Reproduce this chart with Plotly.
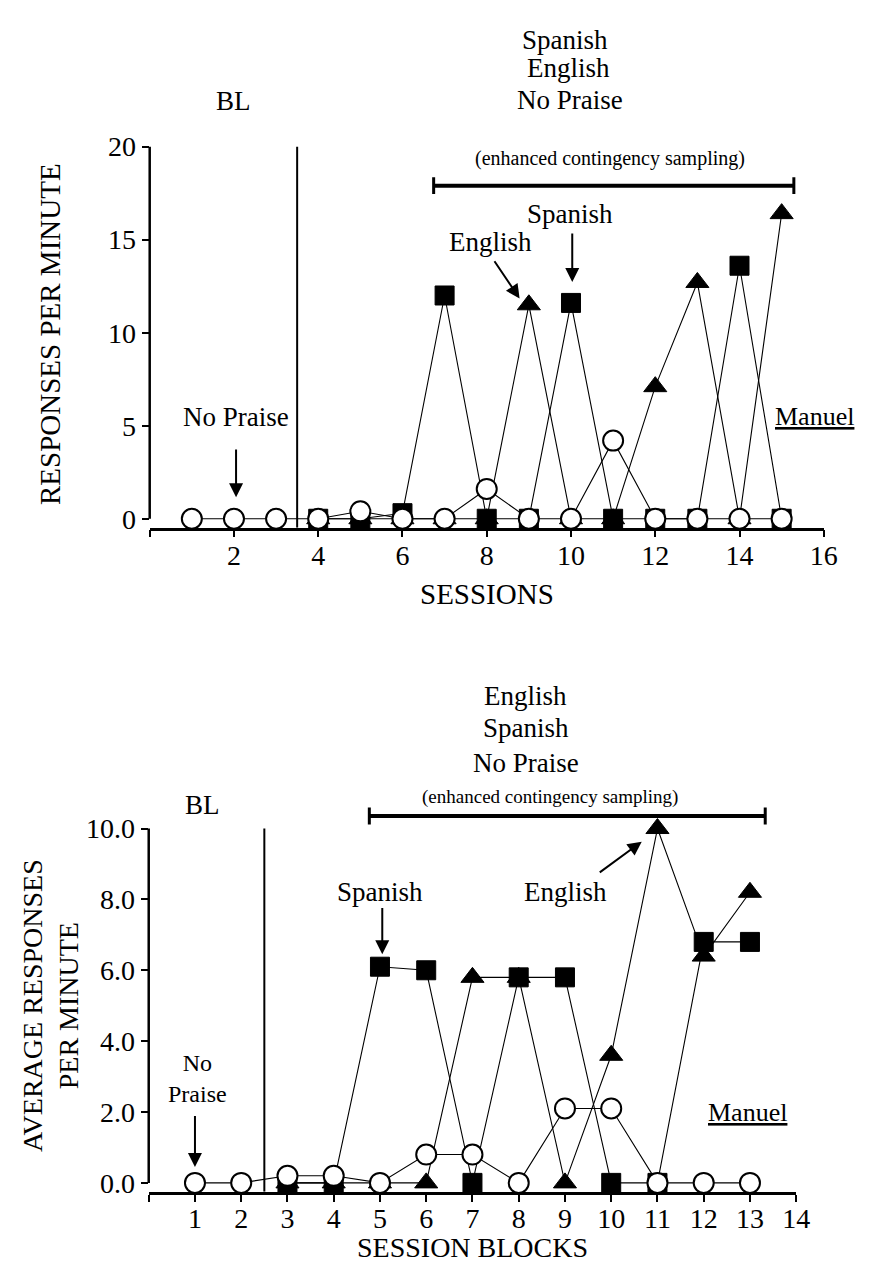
import plotly.graph_objects as go

W, H = 877, 1266
FONT = "Liberation Serif"

# ---------------- data: top panel (sessions) ----------------
sessions = list(range(1, 16))
top_no_praise = [0, 0, 0, 0, 0.4, 0, 0, 1.6, 0, 0, 4.2, 0, 0, 0, 0]
top_sessions_cond = list(range(4, 16))
top_spanish = [0, 0, 0.3, 12.0, 0, 0, 11.6, 0, 0, 0, 13.6, 0]
top_english = [0, 0, 0, 0, 0, 11.5, 0, 0, 7.1, 12.7, 0, 16.4]
top_xticks = [0, 2, 4, 6, 8, 10, 12, 14, 16]
top_xticktext = ["", "2", "4", "6", "8", "10", "12", "14", "16"]
top_yticks = [0, 5, 10, 15, 20]
top_yticktext = ["0", "5", "10", "15", "20"]

# ---------------- data: bottom panel (session blocks) ----------------
blocks = list(range(1, 14))
bot_no_praise = [0, 0, 0.2, 0.2, 0, 0.8, 0.8, 0, 2.1, 2.1, 0, 0, 0]
bot_blocks_cond = list(range(3, 14))
bot_spanish = [0, 0, 6.1, 6.0, 0, 5.8, 5.8, 0, 0, 6.8, 6.8]
bot_english = [0, 0, 0, 0, 5.8, 5.8, 0, 3.6, 10.0, 6.4, 8.2]
bot_xticks = list(range(0, 15))
bot_xticktext = [""] + [str(i) for i in range(1, 15)]
bot_yticks = [0, 2, 4, 6, 8, 10]
bot_yticktext = ["0.0", "2.0", "4.0", "6.0", "8.0", "10.0"]


def px(x):
    return x / W


def py(y):
    return 1 - y / H


fig = go.Figure()

circle = dict(symbol="circle", size=20, color="white", line=dict(color="black", width=2))
square = dict(symbol="square", size=19, color="black", line=dict(color="black", width=1))
tri = dict(symbol="triangle-up", size=20, color="black", line=dict(color="black", width=1))
ln = dict(color="black", width=1.1)

# top traces
fig.add_trace(go.Scatter(x=top_sessions_cond, y=top_english, mode="lines+markers", marker=tri,
                         line=ln, xaxis="x", yaxis="y", cliponaxis=False, name="English"))
fig.add_trace(go.Scatter(x=top_sessions_cond, y=top_spanish, mode="lines+markers", marker=square,
                         line=ln, xaxis="x", yaxis="y", cliponaxis=False, name="Spanish"))
fig.add_trace(go.Scatter(x=sessions, y=top_no_praise, mode="lines+markers", marker=circle,
                         line=ln, xaxis="x", yaxis="y", cliponaxis=False, name="No Praise"))
# bottom traces
fig.add_trace(go.Scatter(x=bot_blocks_cond, y=bot_english, mode="lines+markers", marker=tri,
                         line=ln, xaxis="x2", yaxis="y2", cliponaxis=False, name="English"))
fig.add_trace(go.Scatter(x=bot_blocks_cond, y=bot_spanish, mode="lines+markers", marker=square,
                         line=ln, xaxis="x2", yaxis="y2", cliponaxis=False, name="Spanish"))
fig.add_trace(go.Scatter(x=blocks, y=bot_no_praise, mode="lines+markers", marker=circle,
                         line=ln, xaxis="x2", yaxis="y2", cliponaxis=False, name="No Praise"))

tickfont = dict(family=FONT, size=28, color="black")
axis_common = dict(showgrid=False, zeroline=False, ticks="outside", ticklen=7, tickwidth=2,
                   tickcolor="black", tickfont=tickfont, fixedrange=True)

fig.update_layout(
    width=W, height=H, margin=dict(l=0, r=0, t=0, b=0),
    paper_bgcolor="white", plot_bgcolor="white", showlegend=False,
    xaxis=dict(domain=[px(144), px(829)], range=[0, 16], anchor="y", tickmode="array",
               tickvals=top_xticks, ticktext=top_xticktext, showline=True, linewidth=2.5,
               linecolor="black", ticklabelstandoff=-6, **axis_common),
    yaxis=dict(domain=[py(519), py(125)], range=[-0.479, 20.48], anchor="x", tickmode="array",
               tickvals=top_yticks, ticktext=top_yticktext, showline=False, **axis_common),
    xaxis2=dict(domain=[px(143), px(801)], range=[0, 14], anchor="y2", tickmode="array",
                tickvals=bot_xticks, ticktext=bot_xticktext, showline=True, linewidth=2.5,
                linecolor="black", ticklabelstandoff=-7, **axis_common),
    yaxis2=dict(domain=[py(1190), py(797.9)], range=[-0.251, 10.7], anchor="x2", tickmode="array",
                tickvals=bot_yticks, ticktext=bot_yticktext, showline=False, **axis_common),
)

shapes = []
# y axis lines (detached from x axis)
shapes.append(dict(type="line", xref="paper", yref="y", x0=px(144), x1=px(144), y0=0, y1=20,
                   line=dict(color="black", width=2.5)))
shapes.append(dict(type="line", xref="paper", yref="y2", x0=px(143), x1=px(143), y0=0, y1=10,
                   line=dict(color="black", width=2.5)))
# phase change lines
shapes.append(dict(type="line", xref="x", yref="y", x0=3.5, x1=3.5, y0=-0.479, y1=20,
                   line=dict(color="black", width=2)))
shapes.append(dict(type="line", xref="x2", yref="y2", x0=2.5, x1=2.5, y0=-0.251, y1=10,
                   line=dict(color="black", width=2)))
# brackets
for xr, yr, xa, xb, yv, dy in [("x", "y", 6.74, 15.29, 17.9, 0.45), ("x2", "y2", 4.77, 13.33, 10.35, 0.24)]:
    shapes.append(dict(type="line", xref=xr, yref=yr, x0=xa, x1=xb, y0=yv, y1=yv,
                       line=dict(color="black", width=4)))
    for xe in (xa, xb):
        shapes.append(dict(type="line", xref=xr, yref=yr, x0=xe, x1=xe, y0=yv - dy, y1=yv + dy,
                           line=dict(color="black", width=3)))
fig.update_layout(shapes=shapes)

ann = []


def ptext(text, x, y, size=27, angle=0):
    ann.append(dict(text=text, xref="paper", yref="paper", x=px(x), y=py(y), showarrow=False,
                    xanchor="center", yanchor="middle", textangle=angle,
                    font=dict(family=FONT, size=size, color="black")))


def dtext(text, x, y, xr, yr, size=27):
    ann.append(dict(text=text, xref=xr, yref=yr, x=x, y=y, showarrow=False,
                    xanchor="center", yanchor="middle",
                    font=dict(family=FONT, size=size, color="black")))


def arrow(x, y, ax, ay, xr, yr):
    ann.append(dict(text="", xref=xr, yref=yr, x=x, y=y, ax=ax, ay=ay, axref=xr, ayref=yr,
                    showarrow=True, arrowhead=2, arrowsize=1.4, arrowwidth=2,
                    arrowcolor="black", standoff=0, startstandoff=0))


# axis titles
ptext("RESPONSES PER MINUTE", 42, 323, size=29, angle=-90)
ptext("SESSIONS", 487, 586, size=29)
ptext("AVERAGE RESPONSES<br>PER MINUTE", 43, 1002, size=28, angle=-90)
ptext("SESSION BLOCKS", 472, 1246, size=28)

# top header texts
ptext("Spanish", 566, 26)
ptext("English", 570, 55)
ptext("No Praise", 571, 87)
ptext("BL", 229, 88)
ptext("(enhanced contingency sampling)", 612, 146, size=20)

# bottom header texts
ptext("English", 526, 689)
ptext("Spanish", 526, 721)
ptext("No Praise", 526, 757)
ptext("BL", 198, 799)
ptext("(enhanced contingency sampling)", 551, 791, size=19)

# top in-chart labels
dtext("English", 8.09, 14.89, "x", "y")
arrow(8.78, 11.84, 8.16, 13.92, "x", "y")
dtext("Spanish", 9.98, 16.40, "x", "y")
arrow(10.03, 12.72, 10.03, 15.41, "x", "y")
dtext("No Praise", 2.05, 5.48, "x", "y")
arrow(2.05, 1.15, 2.05, 3.80, "x", "y")
dtext("<u>Manuel</u>", 15.77, 5.48, "x", "y", size=26)

# bottom in-chart labels
dtext("Spanish", 5.0, 8.21, "x2", "y2")
arrow(5.05, 6.45, 5.05, 7.80, "x2", "y2")
dtext("English", 9.01, 8.2, "x2", "y2")
arrow(10.66, 9.63, 9.72, 8.73, "x2", "y2")
dtext("No<br>Praise", 1.06, 2.95, "x2", "y2", size=24)
arrow(1.0, 0.45, 1.0, 1.93, "x2", "y2")
dtext("<u>Manuel</u>", 12.94, 2.0, "x2", "y2", size=26)

fig.update_layout(annotations=ann)

fig.write_html("out.html")
